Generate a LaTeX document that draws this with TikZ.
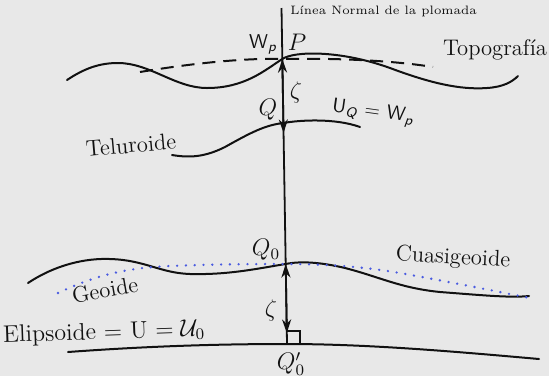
\documentclass[tikz,border=0pt]{standalone}
\usepackage{amsmath,amssymb}
\usepackage{graphicx}
\usepackage{tikz}
\usepackage{xcolor}
\usetikzlibrary{arrows.meta,calc}
\definecolor{paper}{HTML}{E8E8E8}
\definecolor{ink}{HTML}{111111}
\definecolor{geoblue}{HTML}{4A5BE0}
\tikzset{
  surface/.style={draw=ink, line width=1pt, line cap=round},
  dashsurf/.style={draw=ink, line width=1pt, dash pattern=on 6.5pt off 4pt},
  dotsurf/.style={draw=geoblue, line width=1.3pt, line cap=round,
                  dash pattern=on 0pt off 4.4pt},
  arrow/.style={{Stealth[length=2.4mm,width=1.6mm]}-{Stealth[length=2.4mm,width=1.6mm]},
                line width=0.9pt, draw=ink},
  lbl/.style={text=ink, inner sep=0.5pt},
  surflabel/.style={lbl, font=\fontsize{11.3}{13.5}\selectfont}
}
\newcommand{\sfsym}[2]{\textsf{#1}$_{\textsf{\itshape #2}}$}

\begin{document}
\begin{tikzpicture}[x=0.5pt,y=-0.5pt]
        \useasboundingbox[fill=paper] (0,0) rectangle (549,376);

        % puntos sobre la normal
        \coordinate (top) at (281.5,8);
        \coordinate (P) at (282.3,59);
        \coordinate (Q) at (283.4,123);
        \coordinate (Q0) at (285.7,264);
        \coordinate (Q0p) at (287,344);

        % superficies
        \draw[surface] (67,80) .. controls (85,68) and (100,63) .. (118,63)
          .. controls (150,63) and (175,88) .. (207,88)
          .. controls (245,88) and (265,70) .. (P)
          .. controls (294,51) and (340,50) .. (390,68)
          .. controls (430,83) and (460,90) .. (487,88)
          .. controls (503,87) and (512,82) .. (518,76);
        \draw[dashsurf] (140,72) .. controls (200,62) and (250,58) .. (P)
          .. controls (330,58) and (390,60) .. (433,67);
        \draw[surface] (172,155) .. controls (190,158) and (205,157) .. (225,147)
          .. controls (250,133) and (265,125) .. (Q)
          .. controls (300,120) and (335,118) .. (360,127);
        \draw[surface] (28,283) .. controls (55,265) and (85,258) .. (110,259)
          .. controls (145,260) and (160,273) .. (190,274)
          .. controls (230,275) and (260,268) .. (Q0)
          .. controls (300,261) and (320,262) .. (345,268)
          .. controls (380,277) and (400,288) .. (440,292)
          .. controls (480,295) and (510,298) .. (529,296);
        \draw[dotsurf] (58,293) .. controls (90,278) and (120,268) .. (170,266)
          .. controls (220,264) and (260,264) .. (Q0)
          .. controls (320,264) and (360,266) .. (400,273)
          .. controls (450,282) and (500,292) .. (530,298);
        \draw[surface] (68,352) .. controls (150,346) and (220,344) .. (Q0p)
          .. controls (370,344) and (460,352) .. (539,359);

        % normal y distancias
        \draw[line width=0.9pt,draw=ink] (top) -- (Q0p);
        \draw[arrow,shorten <=-5pt] (Q) -- (P);
        \draw[arrow,shorten <=5.5pt] (Q0p) -- (Q0);
        \draw[line width=0.9pt,draw=ink] ($(Q0p)+(0,-13)$) -| ($(Q0p)+(13,0)$);

        % textos
        \node[lbl,anchor=west,font=\fontsize{6.1}{7.3}\selectfont] (normal) at (289,11) {L\'inea Normal de la plomada};
        \node[lbl] (wp) at (263,44) {\sfsym{W}{p}};
        \node[lbl] (plbl) at (297,42) {\large$P$};
        \node[lbl] (z1) at (296,92) {\large$\zeta$};
        \node[lbl] (qlbl) at (268,110) {\large$Q$};
        \node[surflabel] (topo) at (495,50) {Topograf\'ia};
        \node[lbl] (uq) at (373,113) {\rotatebox{-8}{\sfsym{U}{Q} = \sfsym{W}{p}}};
        \node[surflabel] (telu) at (131,145) {\rotatebox{5}{Teluroide}};
        \node[lbl] (q0lbl) at (266,250) {\large$Q_0$};
        \node[surflabel] (cuasi) at (453,258) {\rotatebox{-3}{Cuasigeoide}};
        \node[surflabel] (geo) at (105,290) {\rotatebox{10}{Geoide}};
        \node[lbl] (z2) at (271,310) {\large$\zeta$};
        \node[lbl,font=\large] (elip) at (104,333) {\rotatebox{2}{Elipsoide $=$ U $= \mathcal{U}_0$}};
        \node[lbl] (q0plbl) at (291,364) {\large$Q_0'$};
      \end{tikzpicture}
\end{document}
